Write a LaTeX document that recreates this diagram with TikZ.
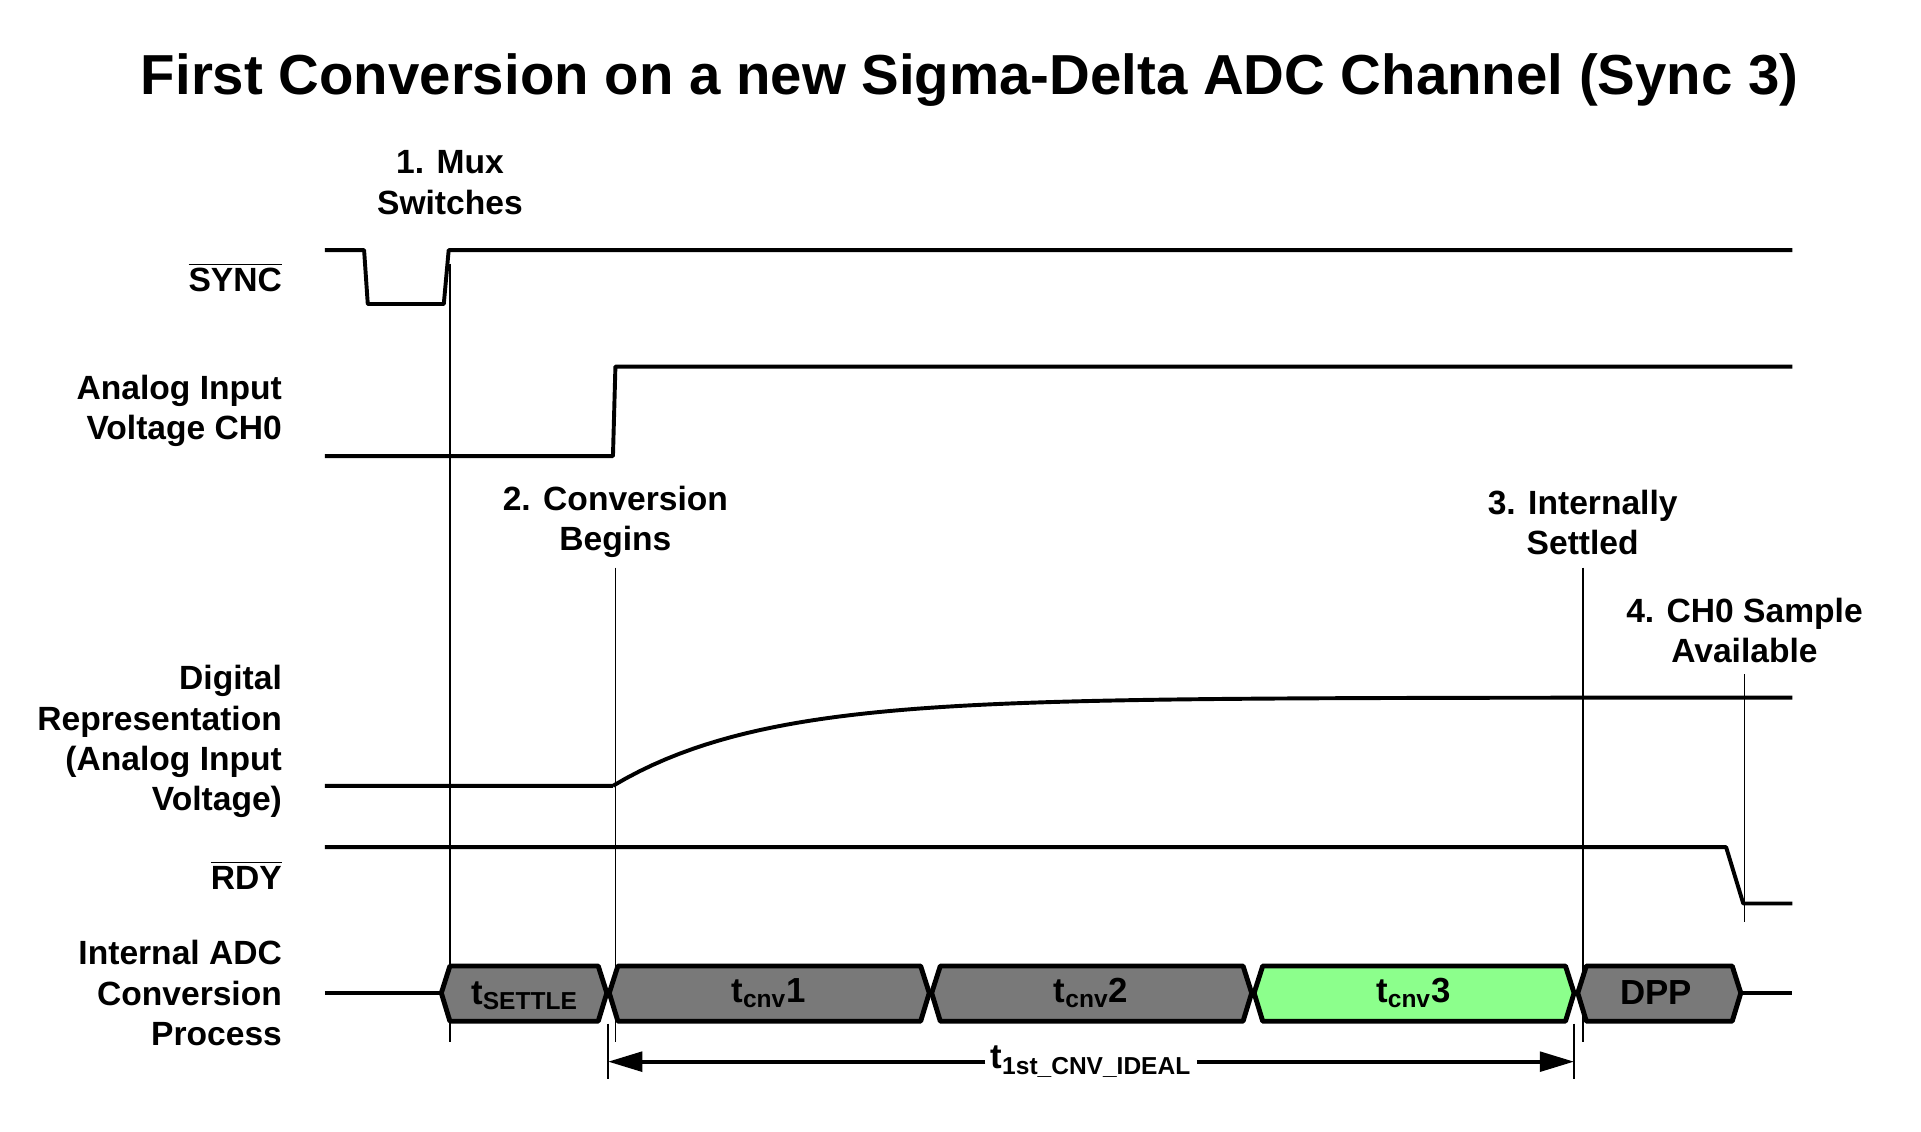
\documentclass[tikz,border=0pt]{standalone}
\usepackage{fontspec}
\setmainfont{Liberation Sans}
\usetikzlibrary{arrows.meta}
\begin{document}
\begin{tikzpicture}[x=0.5pt,y=-0.5pt,
  sig/.style={line width=1.6pt,line join=round},
  thin/.style={line width=0.7pt},
  lbl/.style={font=\fontsize{13.7}{16.4}\selectfont\bfseries,align=right,anchor=east},
  ann/.style={font=\fontsize{13.7}{16.4}\selectfont\bfseries,align=center},
  boxtxt/.style={font=\fontsize{14.2}{16}\selectfont\bfseries}]
\useasboundingbox (0,0) rectangle (1567,922.6);
\node[font=\fontsize{23}{26}\selectfont\bfseries] (title) at (791,65) {First Conversion on a new Sigma-Delta ADC Channel (Sync 3)};
% labels
\node[lbl] (lsync) at (237,226) {$\overline{\mbox{SYNC}}$};
\node[lbl] (lana) at (237,335) {Analog Input\\Voltage CH0};
\node[lbl] (ldig) at (237,605) {Digital\\Representation\\(Analog Input\\Voltage)};
\node[lbl] (lrdy) at (237,714) {$\overline{\mbox{RDY}}$};
\node[lbl] (ladc) at (237,810) {Internal ADC\\Conversion\\Process};
% annotations
\node[ann] (a1) at (367,149) {1. Mux\\Switches};
\node[ann] (a2) at (502,426) {2. Conversion\\Begins};
\node[ann] (a3) at (1291,426) {3. Internally\\Settled};
\node[ann] (a4) at (1423,514) {4. CH0 Sample\\Available};
% vertical markers
\draw[thin] (367,215) -- (367,850);
\draw[thin] (502,463) -- (502,850);
\draw[thin] (1291,463) -- (1291,850);
\draw[thin] (1423,550) -- (1423,752);
% signals
\draw[sig] (265,204) -- (297,204) -- (300,248) -- (362,248) -- (366,204) -- (1462,204);
\draw[sig] (265,372) -- (500,372) -- (502,299) -- (1462,299);
\draw[sig] (265,641) -- (500,641) plot[domain=500:1462,samples=90] (\x,{641-72*(1-exp(-(\x-500)/120))});
\draw[sig] (265,691) -- (1408,691) -- (1422,737) -- (1462,737);
% ADC process
\draw[sig] (265,810) -- (360,810);
\draw[sig] (1420,810) -- (1462,810);
\foreach \a/\b/\c in {360/495/gray!95!black,497/758/gray!95!black,760/1021/gray!95!black,1023/1284/green!45!white,1287/1420/gray!95!black}{
  \draw[line width=2pt,fill=\c,line join=round] (\a,810) -- (\a+7,788) -- (\b-7,788) -- (\b,810) -- (\b-7,833) -- (\a+7,833) -- cycle;
}
\node[boxtxt] (bs) at (428,812) {t\textsubscript{\fontsize{10}{10}\selectfont SETTLE}};
\node[boxtxt] (b1) at (627,810) {t\textsubscript{\fontsize{10}{10}\selectfont cnv}1};
\node[boxtxt] (b2) at (890,810) {t\textsubscript{\fontsize{10}{10}\selectfont cnv}2};
\node[boxtxt] (b3) at (1153,810) {t\textsubscript{\fontsize{10}{10}\selectfont cnv}3};
\node[boxtxt] (bd) at (1351,810) {DPP};
% total span
\draw[thin] (496,835) -- (496,880);
\draw[thin] (1284,835) -- (1284,880);
\coordinate (sl) at (496,866);
\coordinate (sr) at (1284,866);
\node[boxtxt,fill=white,inner sep=2pt] (tot) at (890,866) {t\textsubscript{\fontsize{10}{10}\selectfont 1st\_CNV\_IDEAL}};
\draw[line width=1.6pt,-{Triangle[length=14pt,width=8pt]}] (tot.west) -- (sl);
\draw[line width=1.6pt,-{Triangle[length=14pt,width=8pt]}] (tot.east) -- (sr);
\end{tikzpicture}
\end{document}
